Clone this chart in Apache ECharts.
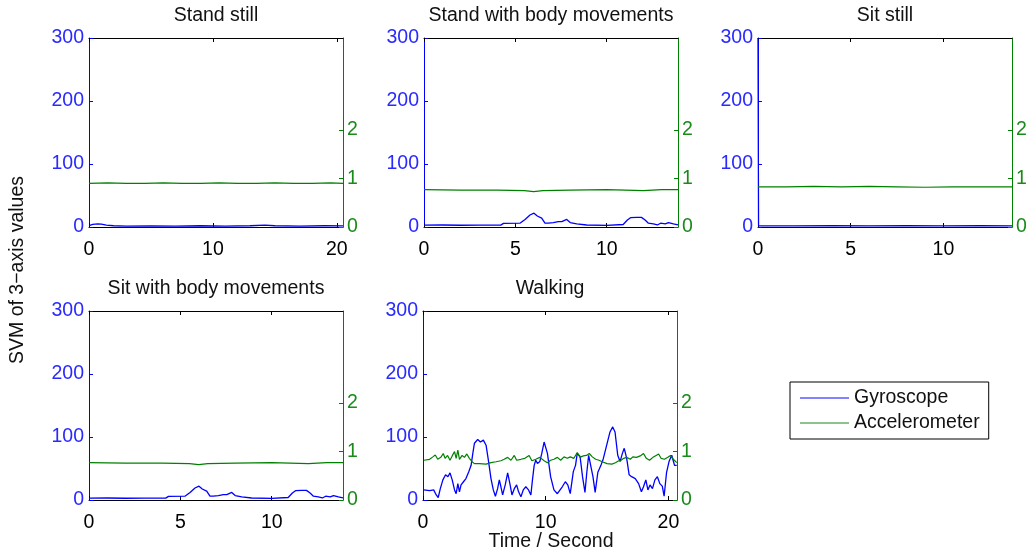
<!DOCTYPE html>
<html>
<head>
<meta charset="utf-8">
<script src="https://cdn.jsdelivr.net/npm/echarts@6/dist/echarts.min.js"></script>
<style>
  html, body { margin: 0; padding: 0; background: #fff; }
  #chart { width: 1030px; height: 554px; }
</style>
</head>
<body>
<div id="chart"></div>
<script>
// ---- data ----
var titles = ['Stand still', 'Stand with body movements', 'Sit still', 'Sit with body movements', 'Walking'];
var xMax = [20.5, 13.9, 13.7, 13.9, 20.7];
var xTicks = [[0, 10, 20], [0, 5, 10], [0, 5, 10], [0, 5, 10], [0, 10, 20]];
var gyroTicks = [0, 100, 200, 300];
var accTicks = [0, 1, 2];

// [time s, value]; gyroscope on the left axis, accelerometer on the right axis
var standStillGyro = [[0, 2], [0.3, 4], [0.7, 5], [1.0, 4.5], [1.4, 3], [2, 2], [3, 1.5], [5, 1.8], [7, 1.5], [9, 2],
  [11, 1.5], [13, 2], [14.2, 3], [15, 2], [17, 1.5], [19, 2], [20.5, 1.8]];
var standStillAcc = [[0, 0.9], [1.5, 0.91], [3, 0.9], [4.5, 0.9], [6, 0.91], [7.5, 0.9], [9, 0.9], [10.5, 0.91],
  [12, 0.9], [13.5, 0.9], [15, 0.91], [16.5, 0.9], [18, 0.9], [19.5, 0.91], [20.5, 0.9]];

var standMoveGyro = [[0, 3], [1, 3.2], [2, 2.8], [3, 3], [4.2, 3], [4.35, 5.8], [5.25, 6], [5.53, 12], [5.8, 19],
  [6.02, 22], [6.2, 17.5], [6.44, 14], [6.62, 6], [6.8, 6], [7.08, 7], [7.35, 8.5], [7.54, 8.5], [7.81, 12], [8.0, 7],
  [8.36, 4.8], [8.9, 3.2], [10.0, 2.7], [10.9, 4], [11.13, 11], [11.3, 14.8], [11.64, 15.3], [11.9, 15.3], [12.1, 11],
  [12.28, 6], [12.55, 4.8], [12.77, 3.2], [12.95, 6], [13.2, 4.8], [13.38, 6.9], [13.65, 4.8], [13.9, 3.2]];
var standMoveAcc = [[0, 0.77], [2, 0.76], [4, 0.76], [5.5, 0.75], [6, 0.73], [6.5, 0.75], [8, 0.76], [10, 0.77],
  [11, 0.76], [12, 0.75], [13, 0.77], [13.9, 0.77]];

var sitStillGyro = [[0, 300], [0.03, 2], [2, 1.8], [4, 2], [6, 1.8], [8, 2], [10, 1.8], [12, 2], [13.7, 1.8]];
var sitStillAcc = [[0, 0.83], [1.5, 0.83], [3, 0.84], [4.5, 0.83], [6, 0.84], [7.5, 0.83], [9, 0.82], [10.5, 0.83],
  [12, 0.83], [13.7, 0.83]];

var sitMoveGyro = standMoveGyro;
var sitMoveAcc = standMoveAcc;

var walkGyro = [[0.06, 16], [0.54, 15], [0.87, 16], [1.08, 8], [1.24, 4], [1.41, 18], [1.62, 32], [1.84, 40], [2.03, 37],
  [2.2, 43], [2.38, 32], [2.57, 16], [2.7, 10], [2.84, 26], [2.97, 13], [3.1, 24], [3.3, 29], [3.5, 34], [3.73, 45],
  [3.92, 55], [4.06, 74], [4.19, 90], [4.46, 96], [4.68, 92], [4.92, 95], [5.14, 87], [5.33, 63], [5.54, 34],
  [5.73, 16], [5.9, 6], [6.08, 18], [6.22, 32], [6.35, 21], [6.49, 8], [6.7, 24], [6.9, 43], [7.08, 26], [7.25, 8],
  [7.44, 18], [7.63, 24], [7.79, 13], [7.98, 5], [8.17, 16], [8.38, 21], [8.6, 16], [8.79, 8], [8.92, 32], [9.06, 55],
  [9.19, 63], [9.33, 58], [9.52, 61], [9.68, 74], [9.87, 92], [10.0, 91], [10.14, 74], [10.4, 37], [10.67, 16],
  [10.95, 10], [11.35, 21], [11.6, 29], [11.8, 24], [12.0, 10], [12.25, 45], [12.43, 55], [12.57, 74], [12.8, 69],
  [13.0, 37], [13.2, 12], [13.35, 44], [13.5, 71], [13.65, 74], [13.85, 37], [14.03, 12], [14.25, 44], [14.5, 55],
  [14.7, 66], [14.97, 87], [15.24, 108], [15.46, 116], [15.65, 108], [15.87, 71], [16.06, 61], [16.25, 74],
  [16.4, 82], [16.6, 66], [16.8, 40], [17.0, 37], [17.3, 34], [17.57, 26], [17.8, 13], [17.97, 21], [18.16, 32],
  [18.33, 16], [18.5, 24], [18.7, 18], [18.9, 32], [19.1, 37], [19.3, 26], [19.5, 22], [19.65, 6], [19.85, 44],
  [20.05, 61], [20.27, 71], [20.5, 55], [20.68, 55]];
var walkAcc = [[0.06, 0.82], [0.54, 0.84], [0.8, 0.89], [1.0, 0.93], [1.2, 0.84], [1.45, 0.88], [1.65, 0.96],
  [1.8, 0.86], [2.0, 0.92], [2.2, 0.82], [2.38, 0.91], [2.57, 1.0], [2.7, 0.86], [2.84, 1.03], [2.97, 0.84],
  [3.19, 0.92], [3.38, 0.88], [3.57, 0.95], [3.78, 0.86], [4.0, 0.79], [4.19, 0.75], [4.6, 0.75], [5.14, 0.74],
  [5.54, 0.77], [5.95, 0.79], [6.35, 0.81], [6.62, 0.84], [6.9, 0.88], [7.17, 0.82], [7.44, 0.92], [7.63, 0.82],
  [7.98, 0.84], [8.3, 0.86], [8.65, 0.92], [8.87, 0.81], [9.19, 0.84], [9.52, 0.88], [9.87, 0.81], [10.14, 0.77],
  [10.4, 0.82], [10.67, 0.84], [10.95, 0.88], [11.22, 0.82], [11.49, 0.89], [11.76, 0.86], [12.0, 0.89],
  [12.3, 0.86], [12.57, 0.98], [12.8, 0.88], [13.06, 0.91], [13.33, 0.92], [13.55, 0.96], [13.8, 0.89],
  [14.07, 0.84], [14.34, 0.82], [14.6, 0.79], [15.0, 0.75], [15.4, 0.74], [15.68, 0.77], [15.95, 0.81],
  [16.14, 0.82], [16.36, 0.86], [16.6, 0.88], [16.9, 0.84], [17.1, 0.89], [17.4, 0.88], [17.7, 0.91],
  [17.97, 0.96], [18.2, 0.86], [18.46, 0.82], [18.74, 0.88], [19.0, 0.92], [19.2, 0.95], [19.4, 0.86],
  [19.68, 0.84], [19.95, 0.88], [20.17, 0.92], [20.4, 0.84], [20.68, 0.77]];

var gyroData = [standStillGyro, standMoveGyro, sitStillGyro, sitMoveGyro, walkGyro];
var accData = [standStillAcc, standMoveAcc, sitStillAcc, sitMoveAcc, walkAcc];

// ---- layout ----
var boxes = [
  { left: 89, top: 38 }, { left: 424, top: 38 }, { left: 758, top: 38 },
  { left: 89, top: 311 }, { left: 423, top: 311 }
];
var W = 254, H = 189;
var font = '"Liberation Sans", Arial, Helvetica, sans-serif';
var blue = '#0000ff', green = '#008000';

var grid = [], xAxis = [], yAxis = [], series = [], title = [];

boxes.forEach(function (b, i) {
  grid.push({ left: b.left, top: b.top, width: W, height: H, containLabel: false });
  title.push({
    text: titles[i], left: b.left + W / 2, top: b.top - 32, textAlign: 'center', padding: 0,
    textStyle: { fontFamily: font, fontSize: 19.5, fontWeight: 'normal', color: '#111' }
  });
  ['bottom', 'top'].forEach(function (pos) {
    xAxis.push({
      type: 'value', gridIndex: i, position: pos, min: 0, max: xMax[i],
      axisLine: { show: true, onZero: false, lineStyle: { color: '#000', width: 1 } },
      axisTick: { show: true, inside: true, length: 4, customValues: xTicks[i], lineStyle: { color: '#000' } },
      axisLabel: {
        show: pos === 'bottom', customValues: xTicks[i], color: '#000', fontSize: 19.5,
        fontFamily: font, margin: 13
      },
      splitLine: { show: false }
    });
  });
  yAxis.push({
    type: 'value', gridIndex: i, position: 'left', min: 0, max: 300, interval: 100,
    axisLine: { show: true, onZero: false, lineStyle: { color: blue, width: 1 } },
    axisTick: { show: true, inside: true, length: 4, customValues: gyroTicks, lineStyle: { color: blue } },
    axisLabel: { customValues: gyroTicks, color: '#2a2aff', fontSize: 19.5, fontFamily: font, margin: 5 },
    splitLine: { show: false }
  });
  yAxis.push({
    type: 'value', gridIndex: i, position: 'right', min: 0, max: 3.9,
    axisLine: { show: true, onZero: false, lineStyle: { color: green, width: 1 } },
    axisTick: { show: true, inside: true, length: 4, customValues: accTicks, lineStyle: { color: green } },
    axisLabel: { customValues: accTicks, color: '#1a8a1a', fontSize: 19.5, fontFamily: font, margin: 4 },
    splitLine: { show: false }
  });
  series.push({
    name: 'Gyroscope', type: 'line', xAxisIndex: 2 * i, yAxisIndex: 2 * i, data: gyroData[i],
    symbol: 'none', showSymbol: false, clip: true,
    lineStyle: { color: blue, width: 1.3 }, itemStyle: { color: blue }
  });
  series.push({
    name: 'Accelerometer', type: 'line', xAxisIndex: 2 * i, yAxisIndex: 2 * i + 1, data: accData[i],
    symbol: 'none', showSymbol: false, clip: true,
    lineStyle: { color: green, width: 1.2 }, itemStyle: { color: green }
  });
});

var chart = echarts.init(document.getElementById('chart'));
chart.setOption({
  animation: false,
  backgroundColor: '#fff',
  title: title,
  grid: grid,
  xAxis: xAxis,
  yAxis: yAxis,
  series: series,
  legend: {
    data: [
      { name: 'Gyroscope', icon: 'rect', itemStyle: { color: '#5a5aff' } },
      { name: 'Accelerometer', icon: 'rect', itemStyle: { color: '#66b066' } }
    ],
    orient: 'vertical', left: 790, top: 382,
    padding: [6, 9, 6, 10], itemGap: 5, itemWidth: 49, itemHeight: 1.5,
    borderColor: '#000', borderWidth: 1, selectedMode: false,
    textStyle: { fontFamily: font, fontSize: 19.5, color: '#111', lineHeight: 20 }
  },
  graphic: [
    {
      type: 'text', x: 18, y: 270, rotation: Math.PI / 2,
      style: { text: 'SVM of 3\u2212axis values', fontFamily: font, fontSize: 19.5, fill: '#111', align: 'center', verticalAlign: 'middle' }
    },
    {
      type: 'text', x: 551, y: 542,
      style: { text: 'Time / Second', fontFamily: font, fontSize: 19.5, fill: '#111', align: 'center', verticalAlign: 'middle' }
    }
  ]
});
</script>
</body>
</html>
